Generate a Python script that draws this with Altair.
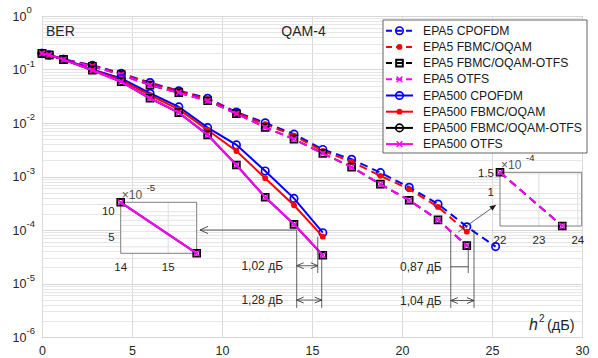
import altair as alt
import pandas as pd

FONT = "Liberation Sans"
TXT = "#262626"
FRAME = "#7f7f7f"
ANN = "#3a3a3a"

# ---------------- data ----------------
h2_db = [0.0, 0.4, 1.2, 2.8, 4.4, 6.0, 7.6, 9.2, 10.8, 12.4, 14.0, 15.6,
         17.2, 18.8, 20.4, 22.0, 23.6, 25.2]

ber_epa5_cpofdm = [0.20, 0.187, 0.155, 0.120, 0.085, 0.057, 0.040, 0.029, 0.0160,
                   0.0101, 0.0062, 0.0032, 0.0021, 0.00118, 6.3e-4, 3.06e-4, 1.15e-4, 4.9e-5]
ber_epa5_fbmc = [0.20, 0.187, 0.154, 0.118, 0.083, 0.055, 0.039, 0.028, 0.0155,
                 0.0095, 0.0058, 0.0030, 0.0019, 0.00103, 5.8e-4, 2.7e-4, 9.3e-5]
ber_epa5_fbmc_otfs = [0.20, 0.187, 0.153, 0.115, 0.080, 0.051, 0.037, 0.026, 0.0150,
                      0.0083, 0.0050, 0.0027, 0.0015, 7.2e-4, 3.6e-4, 1.55e-4, 5.1e-5]
ber_epa5_otfs = [0.20, 0.187, 0.153, 0.115, 0.080, 0.051, 0.037, 0.026, 0.0150,
                 0.0083, 0.0050, 0.0027, 0.0015, 7.2e-4, 3.6e-4, 1.55e-4, 5.1e-5]
ber_epa500_cpofdm = [0.20, 0.187, 0.155, 0.100, 0.068, 0.036, 0.020, 0.0082, 0.0039,
                     0.00127, 3.9e-4, 8.9e-5]
ber_epa500_fbmc = [0.20, 0.187, 0.153, 0.098, 0.064, 0.033, 0.018, 0.0074, 0.0030,
                   9.3e-4, 2.9e-4, 7.5e-5]
ber_epa500_fbmc_otfs = [0.20, 0.187, 0.153, 0.097, 0.059, 0.029, 0.0156, 0.0060, 0.00164,
                        4.1e-4, 1.277e-4, 3.38e-5]
ber_epa500_otfs = [0.20, 0.187, 0.153, 0.097, 0.059, 0.029, 0.0156, 0.0060, 0.00164,
                   4.1e-4, 1.277e-4, 3.38e-5]

series_names = ["EPA5 CPOFDM", "EPA5 FBMC/OQAM", "EPA5 FBMC/OQAM-OTFS", "EPA5 OTFS",
                "EPA500 CPOFDM", "EPA500 FBMC/OQAM", "EPA500 FBMC/OQAM-OTFS", "EPA500 OTFS"]
series_ber = [ber_epa5_cpofdm, ber_epa5_fbmc, ber_epa5_fbmc_otfs, ber_epa5_otfs,
              ber_epa500_cpofdm, ber_epa500_fbmc, ber_epa500_fbmc_otfs, ber_epa500_otfs]
series_colors = ["#0000ff", "#ff0000", "#000000", "#ff00ff"] * 2
series_dashed = [True] * 4 + [False] * 4
series_markers = ["o", "dot", "sq", "x"] * 2
legend_markers = ["o", "dot", "sq", "x", "o", "dot", "o", "x"]

x_ticks = [0, 5, 10, 15, 20, 25, 30]
y_decades = [1.0, 1e-1, 1e-2, 1e-3, 1e-4, 1e-5, 1e-6]
y_exponents = ["0", "-1", "-2", "-3", "-4", "-5", "-6"]
y_grid = [m * 10.0 ** k for k in range(-6, 0) for m in range(1, 10)] + [1.0]

# annotation values (dB, BER)
gap_labels = ["1,02 дБ", "1,28 дБ", "0,87 дБ", "1,04 дБ"]

rows = []
for name, vals in zip(series_names, series_ber):
    for xv, yv in zip(h2_db, vals):
        rows.append({"s": name, "x": xv, "y": yv})
df = pd.DataFrame(rows)
one = pd.DataFrame({"k": [0]})

X_PATH = "M-1,-1L1,1M-1,1L1,-1"


def marker_kw(kind):
    if kind == "o":
        return dict(shape="circle", filled=False, size=55, strokeWidth=1.7)
    if kind == "dot":
        return dict(shape="circle", filled=True, size=34, strokeWidth=0)
    if kind == "sq":
        return dict(shape="square", filled=False, size=44, strokeWidth=2)
    return dict(shape=X_PATH, filled=False, size=34, strokeWidth=1.4)


def line_kw(i, width=2):
    kw = dict(color=series_colors[i], strokeWidth=width)
    if series_dashed[i]:
        kw["strokeDash"] = [8, 5]
    return kw


# ---------------- main axes ----------------
X_MAIN = alt.Scale(domain=[0, 30], nice=False, zero=False)
Y_MAIN = alt.Scale(type="log", domain=[1e-6, 1], nice=False)
MAJOR = "abs(log(datum.value)/LN10 - round(log(datum.value)/LN10)) < 0.001"
X_AXIS = alt.Axis(values=x_ticks, grid=True, gridColor="#d9d9d9", gridWidth=1,
                  ticks=False, domain=False, labelPadding=7, labelFlush=False,
                  labelFont=FONT, labelFontSize=12.5, labelColor=TXT, title=None)
Y_AXIS = alt.Axis(values=y_grid, grid=True,
                  gridColor={"condition": {"test": MAJOR, "value": "#d6d6d6"}, "value": "#e6e6e6"},
                  gridWidth=1, ticks=False, domain=False, labelPadding=16,
                  labelExpr=f"{MAJOR} ? '10' : ''", labelOverlap=False, labelBound=False,
                  labelFont=FONT, labelFontSize=12.5, labelColor=TXT, title=None)


def XM(f="x"):
    return alt.X(f"{f}:Q", scale=X_MAIN, axis=X_AXIS)


def YM(f="y"):
    return alt.Y(f"{f}:Q", scale=Y_MAIN, axis=Y_AXIS)


main_layers = []
for i, name in enumerate(series_names):
    base = alt.Chart(df).transform_filter(alt.datum.s == name)
    main_layers.append(base.mark_line(**line_kw(i)).encode(x=XM(), y=YM()))
    main_layers.append(base.mark_point(color=series_colors[i], opacity=1,
                                       **marker_kw(series_markers[i])).encode(x=XM(), y=YM()))

# y-axis exponents
exp_df = pd.DataFrame({"y": y_decades, "t": y_exponents})
main_layers.append(alt.Chart(exp_df).mark_text(align="left", baseline="middle", dy=-6,
                                               font=FONT, fontSize=9.5, color=TXT)
                   .encode(x=alt.value(-15.5), y=YM(), text="t:N"))

# annotation segments (in dB / BER coordinates)
seg = pd.DataFrame([
    (8.78, 1.0e-4, 14.15, 1.0e-4),
    (14.15, 1.0e-4, 14.15, 3.5e-6),
    (15.32, 7.5e-5, 15.32, 1.57e-5),
    (15.54, 3.3e-5, 15.54, 3.5e-6),
    (14.15, 2.15e-5, 15.32, 2.15e-5),
    (14.15, 4.9e-6, 15.54, 4.9e-6),
    (22.71, 9.2e-5, 22.71, 3.5e-6),
    (23.68, 5.2e-5, 23.68, 1.57e-5),
    (24.0, 1.0e-4, 24.0, 3.5e-6),
    (22.71, 2.06e-5, 23.68, 2.06e-5),
    (22.71, 4.8e-6, 24.0, 4.8e-6),
    (23.13, 9.2e-5, 25.22, 2.93e-4),
], columns=["x", "y", "x2", "y2"])
main_layers.append(alt.Chart(seg).mark_rule(color=ANN, strokeWidth=0.8)
                   .encode(x=XM(), y=YM(), x2="x2:Q", y2="y2:Q"))

CHEV = "M-1,-0.42L0,0L-1,0.42"
left_heads = pd.DataFrame({"x": [14.15, 14.15, 22.71], "y": [2.15e-5, 4.9e-6, 4.8e-6]})
right_heads = pd.DataFrame({"x": [15.32, 15.54, 24.0], "y": [2.15e-5, 4.9e-6, 4.8e-6]})
big_head = pd.DataFrame({"x": [8.78], "y": [1.0e-4]})
diag_head = pd.DataFrame({"x": [25.22], "y": [2.93e-4]})
main_layers.append(alt.Chart(left_heads).mark_point(shape=CHEV, angle=180, size=196, filled=False,
                                                    color=ANN, strokeWidth=0.9, opacity=1)
                   .encode(x=XM(), y=YM()))
main_layers.append(alt.Chart(right_heads).mark_point(shape=CHEV, angle=0, size=196, filled=False,
                                                     color=ANN, strokeWidth=0.9, opacity=1)
                   .encode(x=XM(), y=YM()))
main_layers.append(alt.Chart(big_head).mark_point(shape="M-1,-0.45L0,0L-1,0.45", angle=180, size=256,
                                                  filled=False, color=ANN, strokeWidth=0.9, opacity=1)
                   .encode(x=XM(), y=YM()))
main_layers.append(alt.Chart(diag_head).mark_point(shape="M-1,-0.45L0,0L-1,0.45Z", angle=324.6, size=150,
                                                   filled=True, color="#1a1a1a", opacity=1)
                   .encode(x=XM(), y=YM()))

gap_df = pd.DataFrame({"x": [13.39, 13.39, 22.2, 22.2],
                       "y": [2.15e-5, 4.9e-6, 2.06e-5, 4.8e-6],
                       "t": gap_labels})
main_layers.append(alt.Chart(gap_df).mark_text(align="right", baseline="middle", font=FONT,
                                               fontSize=12, color=TXT)
                   .encode(x=XM(), y=YM(), text="t:N"))

# texts in the plot
main_layers.append(alt.Chart(one).mark_text(text="BER", align="left", baseline="middle", font=FONT,
                                            fontSize=14, color=TXT)
                   .encode(x=alt.value(4), y=alt.value(15.7)))
main_layers.append(alt.Chart(one).mark_text(text="QAM-4", align="center", baseline="middle", font=FONT,
                                            fontSize=14, color=TXT)
                   .encode(x=alt.value(261.5), y=alt.value(15.7)))
main_layers.append(alt.Chart(one).mark_text(text="h", align="left", baseline="middle", font=FONT,
                                            fontSize=16, fontStyle="italic", color=TXT)
                   .encode(x=alt.value(487), y=alt.value(309)))
main_layers.append(alt.Chart(one).mark_text(text="2", align="left", baseline="middle", font=FONT,
                                            fontSize=10, color=TXT)
                   .encode(x=alt.value(497), y=alt.value(303)))
main_layers.append(alt.Chart(one).mark_text(text="(дБ)", align="left", baseline="middle", font=FONT,
                                            fontSize=14.5, color=TXT)
                   .encode(x=alt.value(505), y=alt.value(310)))

# legend
main_layers.append(alt.Chart(one).mark_rect(fill="white", stroke="#3c3c3c", strokeWidth=0.8)
                   .encode(x=alt.value(341), x2=alt.value(545), y=alt.value(4), y2=alt.value(137)))
for i, name in enumerate(series_names):
    yy = 14.7 + 16.2 * i
    lk = dict(color=series_colors[i], strokeWidth=2)
    if series_dashed[i]:
        lk["strokeDash"] = [6, 4]
    main_layers.append(alt.Chart(one).mark_rule(**lk)
                       .encode(x=alt.value(344), x2=alt.value(371), y=alt.value(yy)))
    main_layers.append(alt.Chart(one).mark_point(color=series_colors[i], opacity=1,
                                                 **marker_kw(legend_markers[i]))
                       .encode(x=alt.value(357.5), y=alt.value(yy)))
    main_layers.append(alt.Chart(one).mark_text(text=name, align="left", baseline="middle", font=FONT,
                                                fontSize=12.2, color="#1a1a1a")
                       .encode(x=alt.value(381), y=alt.value(yy)))

main = alt.layer(*main_layers)


# ---------------- insets ----------------
def make_inset(xdom, ydom, xrng, yrng, names, xticks, yticks, ylabels, gx, gy, exp):
    sx = alt.Scale(domain=xdom, range=xrng, nice=False, zero=False)
    sy = alt.Scale(type="log", domain=ydom, range=yrng, nice=False)

    def IX(f="x"):
        return alt.X(f"{f}:Q", scale=sx, axis=None)

    def IY(f="y"):
        return alt.Y(f"{f}:Q", scale=sy, axis=None)

    L = []
    box = pd.DataFrame({"x": [xdom[0]], "x2": [xdom[1]], "y": [ydom[0]], "y2": [ydom[1]]})
    L.append(alt.Chart(box).mark_rect(fill="white", strokeWidth=0)
             .encode(x=IX(), x2="x2:Q", y=IY(), y2="y2:Q"))
    vg = pd.DataFrame({"x": gx, "y": [ydom[0]] * len(gx), "y2": [ydom[1]] * len(gx)})
    L.append(alt.Chart(vg).mark_rule(color="#dcdcdc", strokeWidth=1)
             .encode(x=IX(), y=IY(), y2="y2:Q"))
    hg = pd.DataFrame({"y": gy, "x": [xdom[0]] * len(gy), "x2": [xdom[1]] * len(gy)})
    L.append(alt.Chart(hg).mark_rule(color="#e3e3e3", strokeWidth=1)
             .encode(x=IX(), x2="x2:Q", y=IY()))
    L.append(alt.Chart(box).mark_rect(fill=None, stroke=FRAME, strokeWidth=1)
             .encode(x=IX(), x2="x2:Q", y=IY(), y2="y2:Q"))
    for name in names:
        i = series_names.index(name)
        base = alt.Chart(df).transform_filter(
            f"datum.s == '{name}' && datum.x >= {xdom[0]} && datum.x <= {xdom[1]}")
        L.append(base.mark_line(**line_kw(i)).encode(x=IX(), y=IY()))
        L.append(base.mark_point(color=series_colors[i], opacity=1,
                                 **marker_kw(series_markers[i])).encode(x=IX(), y=IY()))
    xt = pd.DataFrame({"x": xticks, "y": [ydom[0]] * len(xticks), "t": [f"{v:g}" for v in xticks]})
    L.append(alt.Chart(xt).mark_text(align="center", baseline="middle", dy=15, font=FONT,
                                     fontSize=11.5, color=TXT)
             .encode(x=IX(), y=IY(), text="t:N"))
    yt = pd.DataFrame({"x": [xdom[0]] * len(yticks), "y": yticks, "t": ylabels})
    L.append(alt.Chart(yt).mark_text(align="right", baseline="middle", dx=-6, font=FONT,
                                     fontSize=11.5, color=TXT)
             .encode(x=IX(), y=IY(), text="t:N"))
    et = pd.DataFrame({"x": [xdom[0]], "y": [ydom[1]]})
    L.append(alt.Chart(et).mark_text(text="×10", align="left", baseline="middle", dx=1, dy=-7,
                                     font=FONT, fontSize=12, color="#555555")
             .encode(x=IX(), y=IY()))
    L.append(alt.Chart(et).mark_text(text=exp, align="left", baseline="middle", dx=26, dy=-14,
                                     font=FONT, fontSize=9.5, color=TXT)
             .encode(x=IX(), y=IY()))
    return alt.layer(*L)


inset1 = make_inset([14.0, 15.6], [3.38e-5, 1.277e-4], [78.7, 154.7], [237.3, 186.3],
                    ["EPA500 FBMC/OQAM-OTFS", "EPA500 OTFS"],
                    [14, 15], [5e-5, 1e-4], ["5", "10"], [15],
                    [4e-5, 5e-5, 6e-5, 7e-5, 8e-5, 9e-5, 1e-4], "-5")
inset2 = make_inset([22.0, 24.1], [5.1e-5, 1.55e-4], [458.0, 539.7], [210.0, 156.3],
                    ["EPA5 FBMC/OQAM-OTFS", "EPA5 OTFS"],
                    [22, 23, 24], [1e-4, 1.5e-4], ["1", "1.5"], [23, 24],
                    [6e-5, 7e-5, 8e-5, 9e-5, 1e-4, 1.5e-4], "-4")

chart = (
    alt.layer(main, inset1, inset2)
    .resolve_scale(x="independent", y="independent")
    .properties(width=540, height=321, autosize="none",
                padding={"left": 42, "top": 16, "right": 16, "bottom": 21},
                background="white")
    .configure_view(stroke=FRAME, strokeWidth=1)
)

chart.save("out.html", embed_options={"renderer": "svg", "actions": False})
